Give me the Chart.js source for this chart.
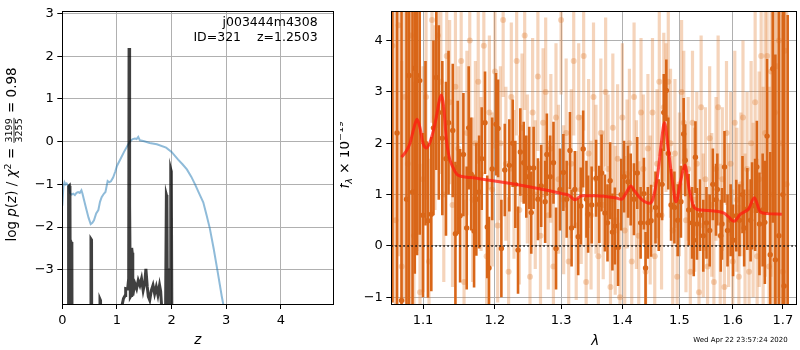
<!DOCTYPE html>
<html><head><meta charset="utf-8">
<script src="https://cdn.jsdelivr.net/npm/chart.js@4/dist/chart.umd.min.js"></script>
<style>
html,body{margin:0;padding:0;background:#fff;width:800px;height:350px;overflow:hidden}
#c1{position:absolute;left:0;top:0}
#c2{position:absolute;left:340px;top:0}
</style>
</head><body>
<canvas id="c1" width="340" height="350"></canvas>
<canvas id="c2" width="460" height="350"></canvas>
<script>
// ---------- left panel: redshift PDF ----------
const zTicks = [0,1,2,3,4];
const logpTicks = [-3,-2,-1,0,1,2,3];
const chiZ = [0.00,0.02,0.04,0.06,0.08,0.10,0.12,0.14,0.17,0.20,0.23,0.26,0.29,0.32,0.35,0.37,0.40,0.44,0.48,0.52,0.55,0.58,0.62,0.66,0.69,0.72,0.76,0.79,0.81,0.83,0.86,0.89,0.93,0.97,1.00,1.06,1.13,1.20,1.25,1.29,1.33,1.36,1.39,1.42,1.50,1.60,1.73,1.90,2.00,2.12,2.20,2.28,2.36,2.43,2.50,2.58,2.64,2.70,2.77,2.84,2.92,2.96];
const chiVal = [-1.50,-1.05,-0.95,-1.00,-0.98,-1.02,-1.03,-1.20,-1.24,-1.22,-1.25,-1.20,-1.18,-1.20,-1.14,-1.22,-1.38,-1.58,-1.78,-1.93,-1.90,-1.84,-1.68,-1.60,-1.41,-1.30,-1.22,-1.18,-1.05,-0.92,-0.95,-0.93,-0.84,-0.70,-0.57,-0.42,-0.24,-0.08,0.02,0.06,0.07,0.06,0.11,0.03,0.01,-0.03,-0.06,-0.14,-0.24,-0.42,-0.53,-0.65,-0.82,-1.00,-1.20,-1.42,-1.72,-2.03,-2.50,-3.02,-3.63,-3.90];
const pzZ = [0,0.110,0.115,0.130,0.140,0.150,0.160,0.175,0.185,0.520,0.525,0.535,0.545,0.680,0.690,0.700,0.710,1.070,1.090,1.120,1.150,1.160,1.190,1.200,1.215,1.222,1.232,1.245,1.258,1.270,1.280,1.290,1.310,1.330,1.360,1.390,1.420,1.450,1.480,1.510,1.530,1.555,1.575,1.600,1.630,1.660,1.690,1.720,1.750,1.780,1.800,1.820,1.870,1.890,1.905,1.915,1.930,1.975,1.985,1.995,2.020,4.960];
const pzLogP = [-9,-9,-1.05,-1.03,-1.20,-6,-2.35,-2.40,-9,-9,-2.28,-2.30,-9,-9,-3.69,-3.72,-9,-9,-3.85,-3.67,-3.60,-3.44,-3.45,-3.40,-3.20,2.19,-1.50,-3.63,-3.60,-2.49,-2.60,-3.60,-3.45,-3.33,-3.44,-3.25,-3.36,-3.21,-3.48,-3.30,-2.98,-3.40,-3.63,-3.71,-3.48,-3.36,-3.56,-3.40,-3.59,-3.36,-3.50,-3.90,-9,-4.0,-1.25,-1.30,-6,-3.0,-0.65,-0.70,-9,-9];

// ---------- right panel: spectrum ----------
const lamTicks = [1.1,1.2,1.3,1.4,1.5,1.6,1.7];
const fluxTicks = [-1,0,1,2,3,4];
const darkLam = [
1.0600,1.0660,1.0718,1.0783,1.0817,1.0861,1.0891,1.0921,1.0956,1.1000,
1.1033,1.1066,1.1111,1.1140,1.1178,1.1212,1.1260,1.1310,1.1345,1.1403,
1.1440,1.1472,1.1505,1.1551,1.1597,1.1625,1.1660,1.1701,1.1733,1.1773,
1.1810,1.1857,1.1889,1.1914,1.1960,1.2017,1.2046,1.2094,1.2144,1.2211,
1.2261,1.2300,1.2340,1.2374,1.2425,1.2464,1.2509,1.2539,1.2575,1.2641,
1.2691,1.2752,1.2778,1.2829,1.2881,1.2921,1.2983,1.3036,1.3088,1.3140,
1.3166,1.3218,1.3272,1.3314,1.3352,1.3405,1.3432,1.3490,1.3562,1.3615,
1.3652,1.3708,1.3751,1.3795,1.3833,1.3874,1.3928,1.3980,1.4029,1.4096,
1.4142,1.4198,1.4255,1.4313,1.4370,1.4399,1.4439,1.4496,1.4573,1.4630,
1.4690,1.4720,1.4765,1.4800,1.4850,1.4910,1.4970,1.5028,1.5078,1.5107,
1.5170,1.5233,1.5263,1.5294,1.5323,1.5380,1.5440,1.5500,1.5560,1.5620,
1.5680,1.5705,1.5770,1.5794,1.5842,1.5900,1.5960,1.6007,1.6069,1.6130,
1.6190,1.6223,1.6285,1.6350,1.6379,1.6440,1.6474,1.6526,1.6590,1.6634,
1.6679,1.6743,1.6795,1.6847,1.6920,1.7000,1.7025,1.7100];
const darkFlux = [
4.9,2.2,-1.06,0.91,3.32,1.05,3.46,3.32,3.22,0.60,
2.0,0.49,0.62,2.3,3.28,2.60,2.1,1.7,2.4,2.25,
0.24,1.53,0.59,1.78,0.35,2.30,1.4,0.29,0.91,1.05,
1.7,2.40,0.37,-0.43,1.5,2.37,2.29,-0.05,1.48,1.57,
2.0,1.2,-0.08,1.83,1.62,1.35,1.52,0.65,1.52,0.91,
1.17,0.86,1.78,1.35,1.62,-0.05,1.10,1.43,0.91,1.86,
0.35,1.10,0.18,0.78,1.89,0.91,0.62,0.8,1.32,0.81,
1.42,0.64,0.45,1.27,0.27,0.39,-0.03,1.0,1.35,1.25,
1.10,0.91,1.42,0.45,1.02,-0.43,0.45,0.49,0.75,0.6,
1.2,2.6,3.03,1.8,0.8,0.75,0.5,0.86,2.18,1.67,
0.7,0.45,0.11,1.73,0.43,0.6,0.2,0.45,0.3,1.2,
0.9,1.10,0.2,0.43,1.54,0.3,0.5,0.11,0.59,0.5,
1.0,0.35,0.72,0.5,0.78,0.8,1.54,0.43,0.7,0.46,
2.14,-0.17,3.45,-0.27,0.2,1.0,-0.78,-1.5];
const darkErr = [
6,6,6,5,5,4,4,3.5,3,1.6,
1.6,1.5,1.5,1.7,1.8,1.7,1.5,1.5,1.4,1.3,
1.4,1.3,1.3,1.2,1.2,1.2,1.1,1.1,1.1,1.1,
1.0,1.0,1.0,1.0,1.0,1.0,0.95,0.95,0.9,0.9,
0.85,0.85,0.85,0.85,0.8,0.8,0.8,0.8,0.8,0.8,
0.8,0.8,0.8,0.8,0.8,0.8,0.8,0.75,0.75,0.75,
0.75,0.75,0.75,0.75,0.75,0.75,0.75,0.75,0.75,0.75,
0.75,0.75,0.75,0.75,0.75,0.75,0.75,0.7,0.7,0.7,
0.7,0.7,0.7,0.7,0.7,0.7,0.7,0.7,0.7,0.7,
0.7,0.75,0.6,0.7,0.7,0.7,0.7,0.7,0.7,0.7,
0.7,0.7,0.7,0.7,0.7,0.7,0.7,0.7,0.7,0.7,
0.7,0.7,0.7,0.7,0.7,0.7,0.7,0.7,0.7,0.7,
0.75,0.75,0.8,0.8,0.85,0.9,0.9,1.0,1.1,1.2,
1.5,2.0,3,4,6,6,6,6];
const lightLam = [
1.060,1.064,1.068,1.072,1.076,1.080,1.084,1.088,1.092,1.096,
1.100,1.104,1.108,1.112,1.116,1.120,1.124,1.128,1.132,1.136,
1.140,1.144,1.148,1.152,1.156,1.160,1.164,1.168,1.172,1.176,
1.180,1.184,1.188,1.192,1.196,1.200,1.204,1.208,1.212,1.216,
1.220,1.224,1.228,1.232,1.236,1.240,1.244,1.248,1.252,1.256,
1.260,1.264,1.268,1.272,1.276,1.280,1.284,1.288,1.292,1.296,
1.300,1.304,1.308,1.312,1.316,1.320,1.324,1.328,1.332,1.336,
1.340,1.344,1.348,1.352,1.356,1.360,1.364,1.368,1.372,1.376,
1.380,1.384,1.388,1.392,1.396,1.400,1.404,1.408,1.412,1.416,
1.420,1.424,1.428,1.432,1.436,1.440,1.444,1.448,1.452,1.456,
1.460,1.464,1.468,1.472,1.476,1.480,1.484,1.488,1.492,1.496,
1.500,1.504,1.508,1.512,1.516,1.520,1.524,1.528,1.532,1.536,
1.540,1.544,1.548,1.552,1.556,1.560,1.564,1.568,1.572,1.576,
1.580,1.584,1.588,1.592,1.596,1.600,1.604,1.608,1.612,1.616,
1.620,1.624,1.628,1.632,1.636,1.640,1.644,1.648,1.652,1.656,
1.660,1.664,1.668,1.672,1.676,1.680,1.684,1.688,1.692,1.696,
1.700,1.704,1.708];
const lightFlux = [
3.9,0.5,4.3,-0.4,2.9,1.6,4.1,0.2,2.4,-0.9,
1.3,2.9,-0.3,4.4,2.5,4.1,3.2,1.0,3.7,2.8,
0.8,3.1,1.9,3.6,-0.7,2.2,4.0,0.9,2.0,3.2,
1.4,3.9,-0.2,2.6,1.1,3.4,0.4,2.0,4.4,1.6,
-0.5,2.9,1.2,3.6,0.7,2.3,4.1,1.5,-0.6,2.6,
1.0,3.3,0.2,2.4,3.0,0.6,1.9,-0.4,2.5,1.3,
4.4,0.9,2.2,-0.3,1.6,3.6,0.4,2.5,1.1,3.7,
-0.7,1.8,0.6,2.9,1.3,-0.2,2.2,0.8,3.0,1.5,
-0.8,2.3,0.5,1.7,-1.0,2.5,0.3,1.4,2.0,-0.3,
2.9,1.0,0.2,2.6,1.5,-0.5,1.9,0.7,2.6,-0.2,
1.6,3.2,0.6,2.7,2.5,3.2,2.0,0.3,1.8,-0.6,
1.2,3.0,2.4,0.5,1.5,-0.5,2.4,0.9,1.6,-0.9,
2.7,0.4,1.3,-0.4,2.1,0.8,-0.7,1.5,2.7,0.2,
1.3,-0.8,2.2,0.6,1.6,-0.3,2.4,0.9,-0.6,1.2,
2.5,0.3,1.5,-0.5,2.0,0.7,2.8,-0.2,1.3,3.7,
0.6,2.2,3.7,-0.4,3.4,1.0,2.6,3.5,4.0,2.0,
-0.5,3.8,1.2];
const lightErr = [
5,5,4.5,4,4,3.5,3,3,2.5,2.5,
2.2,2,2,2,1.8,1.8,1.8,1.7,1.7,1.6,
1.6,1.6,1.6,1.6,1.6,1.6,1.6,1.6,1.6,1.6,
1.5,1.5,1.5,1.5,1.5,1.5,1.5,1.5,1.5,1.5,
1.45,1.45,1.45,1.45,1.45,1.45,1.45,1.45,1.45,1.45,
1.45,1.45,1.45,1.45,1.45,1.45,1.45,1.45,1.45,1.45,
1.45,1.45,1.45,1.45,1.45,1.45,1.45,1.45,1.45,1.45,
1.45,1.45,1.45,1.45,1.45,1.45,1.45,1.45,1.45,1.45,
1.45,1.45,1.45,1.45,1.45,1.45,1.45,1.45,1.45,1.45,
1.45,1.45,1.45,1.45,1.45,1.45,1.45,1.45,1.45,1.45,
1.45,1.45,1.45,1.45,1.45,1.45,1.45,1.45,1.45,1.45,
1.4,1.4,1.4,1.4,1.4,1.4,1.4,1.4,1.4,1.4,
1.4,1.4,1.4,1.4,1.4,1.4,1.4,1.4,1.4,1.4,
1.4,1.4,1.4,1.4,1.4,1.4,1.4,1.4,1.4,1.4,
1.5,1.5,1.5,1.6,1.6,1.7,1.8,1.9,2.1,2.3,
2.5,2.8,3,3.5,4,4.5,5,5,5,5,
5,5,5];
const modelLam = [1.0719,1.0780,1.0826,1.0880,1.0921,1.0960,1.1000,1.1045,1.1100,1.1178,1.1215,1.1246,1.1280,1.1313,1.1350,1.1403,1.1472,1.1600,1.1775,1.2255,1.2756,1.3013,1.3118,1.3224,1.3329,1.3545,1.3874,1.3984,1.4068,1.4143,1.4211,1.4324,1.4469,1.4526,1.4614,1.4672,1.4732,1.4790,1.4879,1.4939,1.5028,1.5101,1.5181,1.5272,1.5394,1.5643,1.5832,1.5927,1.6023,1.6151,1.6314,1.6424,1.6543,1.6676,1.6979];
const modelFlux = [1.73,1.85,1.99,2.30,2.47,2.30,2.00,1.91,2.05,2.50,2.80,2.94,2.70,2.11,1.75,1.54,1.38,1.34,1.31,1.21,1.09,1.02,0.99,0.90,0.98,0.98,0.94,0.91,1.04,1.17,1.07,0.91,0.83,0.91,1.41,1.97,2.40,1.97,1.22,0.86,1.29,1.57,1.10,0.75,0.70,0.68,0.64,0.56,0.48,0.62,0.73,0.94,0.66,0.63,0.62];

// ---------- helpers ----------
const FF = 'DejaVu Sans';
Chart.defaults.font.family = FF;
Chart.defaults.color = '#000';
const minus = v => String(v).replace('-', '\u2212');
const GRID = '#b0b0b0';
function axis(extra) {
  return Object.assign({
    grid: {color: GRID, lineWidth: 1, tickColor: '#000', tickLength: 5, drawTicks: true, offset: false},
    border: {display: false},
    ticks: {font: {size: 13, family: FF}, color: '#000', padding: 3.5, maxRotation: 0, autoSkip: false}
  }, extra);
}
function drawRuns(ctx, runs, x, y, rot) {
  ctx.save(); ctx.translate(x, y); if (rot) ctx.rotate(-Math.PI / 2);
  let total = 0;
  runs.forEach(r => { ctx.font = r.f; r.w = r.frac ? Math.max(ctx.measureText(r.frac[0]).width, ctx.measureText(r.frac[1]).width) + 2 : ctx.measureText(r.t).width; total += r.w; });
  let cx = -total / 2; ctx.fillStyle = '#000'; ctx.textBaseline = 'alphabetic';
  runs.forEach(r => {
    ctx.font = r.f;
    if (r.frac) {
      ctx.textAlign = 'center';
      ctx.fillText(r.frac[0], cx + r.w / 2, r.dn);
      ctx.fillText(r.frac[1], cx + r.w / 2, r.dd);
      ctx.fillRect(cx + 0.5, r.bar, r.w - 1, 0.8);
    } else { ctx.textAlign = 'left'; ctx.fillText(r.t, cx, r.dy || 0); }
    cx += r.w;
  });
  ctx.restore();
}
function frame(chart) {
  const {ctx, chartArea: a} = chart;
  ctx.save(); ctx.strokeStyle = '#000'; ctx.lineWidth = 1;
  const l = Math.floor(a.left) + 0.5, t = Math.floor(a.top) + 0.5, r = Math.floor(a.right) + 0.5, b = Math.floor(a.bottom) + 0.5;
  ctx.strokeRect(l, t, r - l, b - t); ctx.restore();
}

// ---------- left chart ----------
new Chart(document.getElementById('c1'), {
  type: 'scatter',
  data: {datasets: [
    {type: 'line', data: pzZ.map((z, i) => ({x: z, y: pzLogP[i]})), borderColor: 'rgba(0,0,0,0.75)', borderWidth: 3, pointRadius: 0, tension: 0, clip: 0, order: 0},
    {type: 'line', data: chiZ.map((z, i) => ({x: z, y: chiVal[i]})), borderColor: 'rgba(31,119,180,0.5)', borderWidth: 2, pointRadius: 0, tension: 0, clip: 0, order: 1}
  ]},
  options: {
    responsive: false, animation: false, devicePixelRatio: 1,
    layout: {padding: {left: 0, right: 6.7, top: 5, bottom: 0}},
    plugins: {legend: {display: false}, tooltip: {enabled: false}},
    scales: {
      x: axis({type: 'linear', min: 0, max: 4.96,
        afterBuildTicks: s => { s.ticks = zTicks.map(v => ({value: v})); },
        afterFit: s => { s.height = 46; }}),
      y: axis({type: 'linear', min: -3.8, max: 3.05,
        afterBuildTicks: s => { s.ticks = logpTicks.map(v => ({value: v})); },
        afterFit: s => { s.width = 62.3; }})
    }
  },
  plugins: [{id: 'deco1', beforeInit(chart) {
    chart.options.scales.y.ticks.callback = v => minus(v);
  }, afterDraw(chart) {
    const ctx = chart.ctx;
    frame(chart);
    ctx.save(); ctx.fillStyle = '#000';
    ctx.font = '12.5px ' + FF; ctx.textAlign = 'right'; ctx.textBaseline = 'alphabetic';
    ctx.fillText('j003444m4308', 317.7, 26);
    ctx.fillText('ID=321    z=1.2503', 317.7, 40.7);
    ctx.font = 'italic 13.5px ' + FF; ctx.textAlign = 'center';
    ctx.fillText('z', 197.8, 344);
    ctx.restore();
    const N = '13.5px ' + FF, I = 'italic 13.5px ' + FF, S = '9.5px ' + FF;
    drawRuns(ctx, [
      {t: 'log ', f: N}, {t: 'p', f: I}, {t: '(', f: N}, {t: 'z', f: I}, {t: ')', f: N},
      {t: ' / ', f: N}, {t: 'χ', f: I}, {t: '2', f: S, dy: -5.5}, {t: ' = ', f: N},
      {frac: ['3199', '3255'], f: S, dn: -3.6, dd: 6.2, bar: -2.4},
      {t: ' = 0.98', f: N}
    ], 16, 154.5, true);
  }}]
});

// ---------- right chart ----------
const DARK = 'rgb(217,102,24)';
const LIGHT = 'rgba(226,125,50,0.33)';
new Chart(document.getElementById('c2'), {
  type: 'scatter',
  data: {datasets: [
    {type: 'line', data: [{x: 1.0586, y: 0}, {x: 1.7273, y: 0}], borderColor: '#111', borderWidth: 1.6, borderDash: [1.6, 2.4], pointRadius: 0, clip: 0, order: 0},
    {type: 'line', data: modelLam.map((l, i) => ({x: l, y: modelFlux[i]})), borderColor: 'rgba(255,25,15,0.75)', borderWidth: 3, pointRadius: 0, cubicInterpolationMode: 'monotone', clip: 0, order: 1},
    {type: 'scatter', data: darkLam.map((l, i) => ({x: l, y: darkFlux[i]})), backgroundColor: DARK, borderWidth: 0, pointRadius: 2.7, clip: 0, order: 2},
    {type: 'bar', data: darkLam.map((l, i) => ({x: l, y: [darkFlux[i] - darkErr[i], darkFlux[i] + darkErr[i]]})), backgroundColor: DARK, barThickness: 2.6, grouped: false, inflateAmount: 0, borderWidth: 0, clip: 0, order: 3},
    {type: 'scatter', data: lightLam.map((l, i) => ({x: l, y: lightFlux[i]})), backgroundColor: LIGHT, borderWidth: 0, pointRadius: 3, clip: 0, order: 4},
    {type: 'bar', data: lightLam.map((l, i) => ({x: l, y: [lightFlux[i] - lightErr[i], lightFlux[i] + lightErr[i]]})), backgroundColor: LIGHT, barThickness: 3.2, grouped: false, inflateAmount: 0, borderWidth: 0, clip: 0, order: 5}
  ]},
  options: {
    responsive: false, animation: false, devicePixelRatio: 1,
    layout: {padding: {left: 0, right: 0.7, top: 4.3, bottom: 0}},
    plugins: {legend: {display: false}, tooltip: {enabled: false}},
    scales: {
      x: axis({type: 'logarithmic', min: 1.0586, max: 1.7273, offset: false,
        afterBuildTicks: s => { s.ticks = lamTicks.map(v => ({value: v})); },
        afterFit: s => { s.height = 46; }}),
      y: axis({type: 'linear', min: -1.13, max: 4.57,
        afterBuildTicks: s => { s.ticks = fluxTicks.map(v => ({value: v})); },
        afterFit: s => { s.width = 51.3; }})
    }
  },
  plugins: [{id: 'deco2', beforeInit(chart) {
    chart.options.scales.x.ticks.callback = v => Number(v).toFixed(1);
    chart.options.scales.y.ticks.callback = v => minus(v);
  }, afterDraw(chart) {
    const ctx = chart.ctx;
    frame(chart);
    ctx.save(); ctx.fillStyle = '#000';
    ctx.font = 'italic 13.5px ' + FF; ctx.textAlign = 'center'; ctx.textBaseline = 'alphabetic';
    ctx.fillText('λ', 255.3, 345);
    ctx.font = '7px ' + FF; ctx.textAlign = 'right';
    ctx.fillText('Wed Apr 22 23:57:24 2020', 447.7, 342);
    ctx.restore();
    const N = '13.5px ' + FF, I = 'italic 13.5px ' + FF, S = '9.5px ' + FF, SI = 'italic 9.5px ' + FF;
    drawRuns(ctx, [
      {t: 'f', f: I}, {t: 'λ', f: SI, dy: 3}, {t: ' × 10', f: N}, {t: '\u221219', f: S, dy: -6}
    ], 8.5, 154.7, true);
  }}]
});
</script>
</body></html>
